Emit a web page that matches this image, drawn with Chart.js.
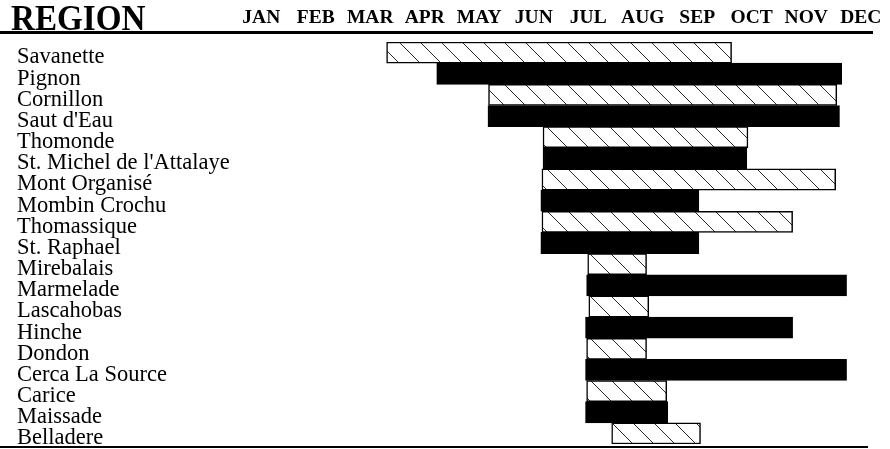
<!DOCTYPE html>
<html>
<head>
<meta charset="utf-8">
<script src="https://cdn.jsdelivr.net/npm/chart.js@4/dist/chart.umd.min.js"></script>
<style>
  html, body { margin: 0; padding: 0; background: #fff; }
  #wrap { position: relative; width: 890px; height: 449px; }
  #title { position: absolute; left: 11px; top: 0px; font-family: "Liberation Serif", "Times New Roman", serif;
           font-weight: bold; font-size: 36px; line-height: 36px; color: #000; transform: scaleX(0.92); transform-origin: left top; }
</style>
</head>
<body>
<div id="wrap">
  <canvas id="c" width="890" height="449"></canvas>
  <div id="title">REGION</div>
</div>
<script>
const months = ["JAN","FEB","MAR","APR","MAY","JUN","JUL","AUG","SEP","OCT","NOV","DEC"];
const regions = ["Savanette","Pignon","Cornillon","Saut d'Eau","Thomonde","St. Michel de l'Attalaye","Mont Organisé","Mombin Crochu","Thomassique","St. Raphael","Mirebalais","Marmelade","Lascahobas","Hinche","Dondon","Cerca La Source","Carice","Maissade","Belladere"];
// month units: 0 = start of January, 12 = end of December
const startMonth = [2.80, 3.72, 4.67, 4.66, 5.67, 5.67, 5.65, 5.63, 5.65, 5.63, 6.49, 6.47, 6.51, 6.45, 6.47, 6.45, 6.47, 6.45, 6.93];
const endMonth   = [9.13, 11.15, 11.06, 11.11, 9.43, 9.41, 11.04, 8.53, 10.25, 8.53, 7.57, 11.24, 7.61, 10.25, 7.57, 11.24, 7.94, 7.96, 8.56];

function makeHatch() {
  const s = 21;
  const pc = document.createElement('canvas');
  pc.width = s; pc.height = s;
  const g = pc.getContext('2d');
  g.fillStyle = '#fff';
  g.fillRect(0, 0, s, s);
  g.strokeStyle = '#2a2a2a';
  g.lineWidth = 1;
  g.beginPath();
  g.moveTo(-2, -2); g.lineTo(s + 2, s + 2);
  g.moveTo(-2 - s, -2); g.lineTo(2, s + 2);
  g.moveTo(s - 2, -2); g.lineTo(2 * s + 2, s + 2);
  g.stroke();
  return g.createPattern(pc, 'repeat');
}

const ctx = document.getElementById('c').getContext('2d');
const hatch = makeHatch();

const linesPlugin = {
  id: 'rules',
  afterDraw(chart) {
    const c = chart.ctx, a = chart.chartArea;
    c.save();
    c.fillStyle = '#000';
    c.fillRect(0, a.top - 11, a.right - 15, 3);
    c.fillRect(0, a.bottom + 2, a.right - 20, 2);
    c.restore();
  }
};

new Chart(ctx, {
  type: 'bar',
  data: {
    labels: regions,
    datasets: [{
      data: regions.map((r, i) => [startMonth[i], endMonth[i]]),
      backgroundColor: (c) => (c.dataIndex % 2 === 0 ? hatch : '#000'),
      borderColor: '#000',
      borderWidth: 1.5,
      borderSkipped: false,
      barPercentage: 1,
      categoryPercentage: 1
    }]
  },
  options: {
    indexAxis: 'y',
    responsive: false,
    animation: false,
    devicePixelRatio: 1,
    layout: { padding: { left: 17, right: 2, top: 0, bottom: 5 } },
    plugins: { legend: { display: false }, tooltip: { enabled: false } },
    scales: {
      x: {
        type: 'linear',
        position: 'top',
        min: 0,
        max: 12,
        afterBuildTicks: (s) => { s.ticks = months.map((m, i) => ({ value: i + 0.5 })); },
        afterFit: (s) => { s.height = 42; s.paddingLeft = 0; s.paddingRight = 0; },
        grid: { display: false, drawTicks: false },
        border: { display: false },
        ticks: {
          autoSkip: false,
          maxRotation: 0,
          padding: 12,
          color: '#000',
          font: { family: "'Liberation Serif', 'Times New Roman', serif", size: 19.5, weight: 'bold' },
          callback: (v) => months[Math.floor(v)]
        }
      },
      y: {
        type: 'category',
        afterFit: (s) => { s.width = 217; },
        grid: { display: false, drawTicks: false },
        border: { display: false },
        ticks: {
          autoSkip: false,
          crossAlign: 'far',
          labelOffset: 5,
          padding: 0,
          color: '#000',
          font: { family: "'Liberation Serif', 'Times New Roman', serif", size: 22.5, lineHeight: 0.4 }
        }
      }
    }
  },
  plugins: [linesPlugin]
});
</script>
</body>
</html>
